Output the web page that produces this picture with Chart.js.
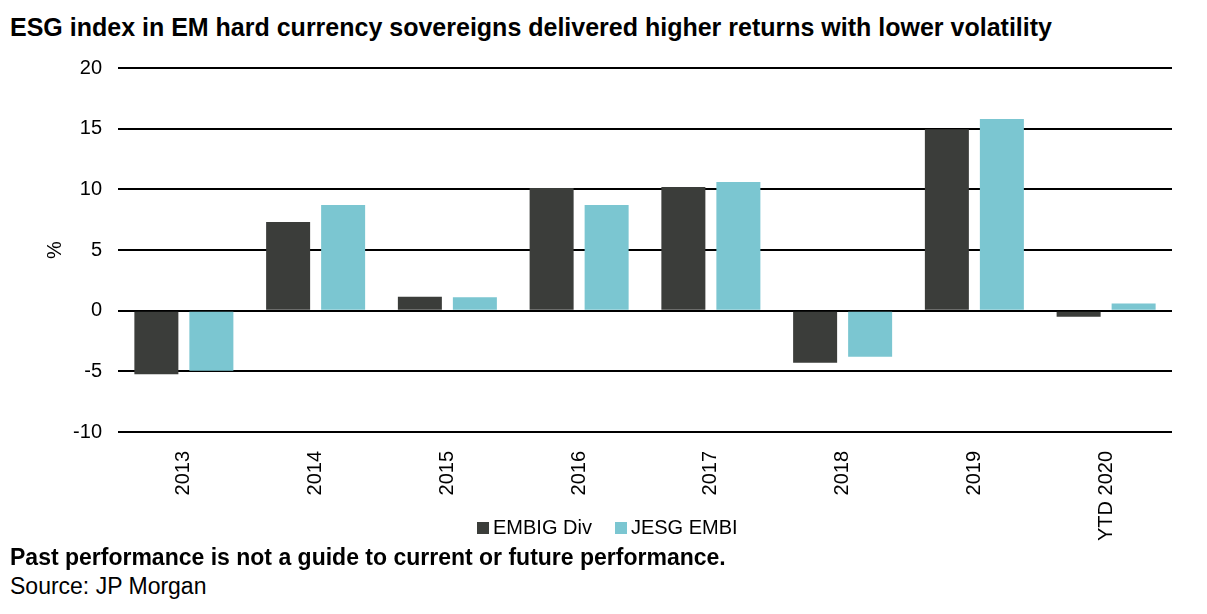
<!DOCTYPE html>
<html>
<head>
<meta charset="utf-8">
<script src="https://cdn.jsdelivr.net/npm/chart.js@4.4.1/dist/chart.umd.min.js"></script>
<style>
  body { margin: 0; background: #fff; font-family: "Liberation Sans", Arial, sans-serif; }
  #wrap { position: relative; width: 1207px; height: 614px; overflow: hidden; }
  .txt { position: absolute; left: 10px; white-space: nowrap; color: #000; line-height: normal; }
  #title { top: 13px; font-size: 25px; font-weight: bold; }
  #note { top: 544px; font-size: 23px; font-weight: bold; }
  #source { top: 573px; font-size: 23px; }
  #chart { position: absolute; left: 0; top: 40px; }
  #legend { position: absolute; left: 477px; top: 516px; display: flex; align-items: center; font-size: 20px; color: #000; white-space: nowrap; }
  #legend .box { width: 12px; height: 12px; margin-right: 4px; }
  #legend .item { display: flex; align-items: center; margin-right: 23px; }
</style>
</head>
<body>
<div id="wrap">
  <div id="title" class="txt">ESG index in EM hard currency sovereigns delivered higher returns with lower volatility</div>
  <canvas id="chart" width="1207" height="510"></canvas>
  <div id="legend"></div>
  <div id="note" class="txt">Past performance is not a guide to current or future performance.</div>
  <div id="source" class="txt">Source: JP Morgan</div>
</div>
<script>
var years = ['2013', '2014', '2015', '2016', '2017', '2018', '2019', 'YTD 2020'];
var embigDiv = [-5.25, 7.3, 1.15, 10.1, 10.2, -4.3, 14.95, -0.5];
var jesgEmbi = [-4.95, 8.7, 1.1, 8.7, 10.6, -3.8, 15.8, 0.6];
var seriesNames = ['EMBIG Div', 'JESG EMBI'];
var seriesColors = ['#3b3d3a', '#7bc6d1'];

var font = "'Liberation Sans', Arial, sans-serif";

window.onload = function () {
  const ctx = document.getElementById('chart');
  const chart = new Chart(ctx, {
    type: 'bar',
    data: {
      labels: years,
      datasets: [{
        label: seriesNames[0],
        data: embigDiv,
        backgroundColor: seriesColors[0]
      }, {
        label: seriesNames[1],
        data: jesgEmbi,
        backgroundColor: seriesColors[1]
      }]
    },
    options: {
      responsive: false,
      animation: false,
      categoryPercentage: 0.835,
      barPercentage: 0.8,
      layout: { padding: { top: 27, right: 35, left: 0, bottom: 0 } },
      plugins: {
        legend: { display: false },
        tooltip: { enabled: false }
      },
      scales: {
        x: {
          grid: { display: false },
          border: { display: false },
          ticks: {
            color: '#000',
            font: { family: font, size: 20 },
            minRotation: 90,
            maxRotation: 90,
            padding: 11
          },
          afterFit: function (scale) { scale.height = 118; }
        },
        y: {
          min: -10,
          max: 20,
          grid: { color: '#000', lineWidth: 2, drawTicks: false },
          border: { display: false },
          ticks: {
            stepSize: 5,
            color: '#000',
            font: { family: font, size: 20 },
            padding: 16
          },
          title: {
            display: true,
            text: '%',
            color: '#000',
            font: { family: font, size: 20 },
            padding: { top: 43, bottom: 0 }
          },
          afterFit: function (scale) { scale.width = 118; }
        }
      }
    }
  });

  var legend = document.getElementById('legend');
  seriesNames.forEach(function (name, i) {
    var item = document.createElement('div');
    item.className = 'item';
    var box = document.createElement('div');
    box.className = 'box';
    box.style.background = seriesColors[i];
    var label = document.createElement('span');
    label.innerHTML = name;
    item.appendChild(box);
    item.appendChild(label);
    legend.appendChild(item);
  });
}
</script>
</body>
</html>
